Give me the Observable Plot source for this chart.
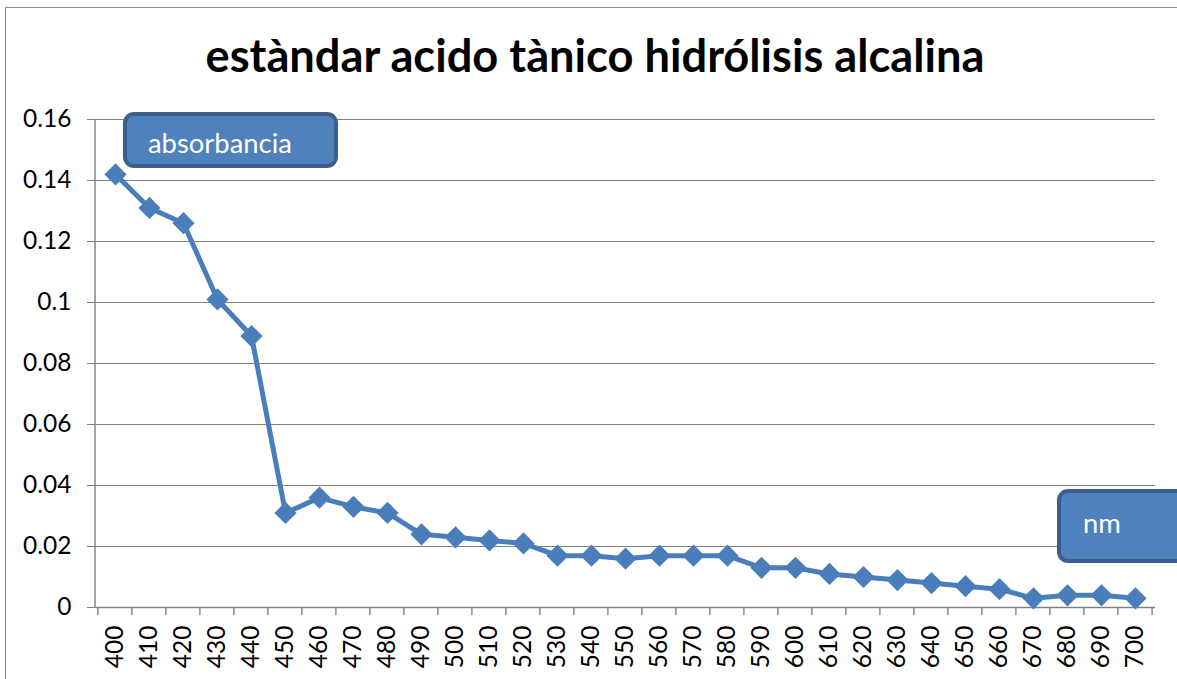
<!DOCTYPE html>
<html><head><meta charset="utf-8">
<script src="https://cdn.jsdelivr.net/npm/d3@7"></script>
<script src="https://cdn.jsdelivr.net/npm/@observablehq/plot@0.6"></script>
<style>
body{margin:0;background:#fff;}
#wrap{position:relative;width:1177px;height:679px;overflow:hidden;font-family:Lato,sans-serif;background:#fff;}
#border{position:absolute;left:5px;top:7px;width:1220px;height:720px;border:1px solid #8a8a8a;box-sizing:border-box;}
#title{height:100px;position:relative;}
#title span{position:absolute;white-space:nowrap;font-weight:bold;line-height:1;color:#000;transform:translateX(-50%);}
#chart{position:relative;}
#chart svg [aria-label$="tick label"]{fill:#000;font-size:24.5px;}
.note{position:absolute;background:#4F81BD;border:4px solid #3A5F8C;border-radius:11px;box-sizing:border-box;}
.note span{position:absolute;color:#fff;line-height:1;white-space:nowrap;font-family:Lato,sans-serif;}
</style></head>
<body>
<div id="wrap">
  <div id="border"></div>
  <div id="title"><span id="titleText"></span></div>
  <div id="chart"></div>
  <div class="note" id="noteY" style="left:123px;top:112px;width:215px;height:56px;"><span></span></div>
  <div class="note" id="noteX" style="left:1057px;top:489px;width:150px;height:74px;"><span></span></div>
</div>
<script>
const titleText = "estàndar acido tànico hidrólisis alcalina";
const yLabel = "absorbancia";
const xLabel = "nm";
const wavelengths = [400,410,420,430,440,450,460,470,480,490,500,510,520,530,540,550,560,570,580,590,600,610,620,630,640,650,660,670,680,690,700];
const absorbance = [0.142,0.131,0.126,0.101,0.089,0.031,0.036,0.033,0.031,0.024,0.023,0.022,0.021,0.017,0.017,0.016,0.017,0.017,0.017,0.013,0.013,0.011,0.010,0.009,0.008,0.007,0.006,0.003,0.004,0.004,0.003];
const yTicks = [0,0.02,0.04,0.06,0.08,0.10,0.12,0.14,0.16];

const data = wavelengths.map((w, i) => ({w, a: absorbance[i]}));

function fitSize(text, weight, target) {
  const c = document.createElement("canvas").getContext("2d");
  c.font = `${weight} 100px Lato`;
  return 100 * target / c.measureText(text).width;
}
const ASC = 0.887; // baseline offset for Lato with line-height 1

// title
const tfs = fitSize(titleText, "bold", 780);
const tEl = document.getElementById("titleText");
tEl.textContent = titleText;
tEl.style.fontSize = tfs + "px";
tEl.style.left = "595px";
tEl.style.top = (72 - ASC * tfs) + "px";

// annotation boxes
const nfs = fitSize(yLabel, "normal", 144);
const ny = document.querySelector("#noteY span");
ny.textContent = yLabel; ny.style.fontSize = nfs + "px";
ny.style.left = (148 - 123 - 4) + "px"; ny.style.top = (153 - 112 - 4 - ASC * nfs) + "px";
const nx = document.querySelector("#noteX span");
nx.textContent = xLabel; nx.style.fontSize = nfs + "px";
nx.style.left = (1083 - 1057 - 4) + "px"; nx.style.top = (533 - 489 - 4 - ASC * nfs) + "px";

const gray = "#808080";
const blue = "#4A7EBB";

const chart = Plot.plot({
  width: 1177, height: 579,
  marginTop: 19, marginBottom: 72, marginLeft: 95, marginRight: 22,
  style: {fontFamily: "Lato, sans-serif", fontSize: "24.5px", color: gray, background: "transparent", overflow: "visible"},
  x: {type: "point", domain: wavelengths, padding: 0.5, align: 0.5, label: null, tickSize: 0, tickPadding: 18, tickRotate: -90},
  y: {domain: [0, 0.16], ticks: yTicks, tickFormat: d => String(+d.toFixed(2)), label: null, tickSize: 8, tickPadding: 16},
  marks: [
    Plot.gridY(yTicks, {stroke: gray, strokeOpacity: 1, strokeWidth: 1.2}),
    Plot.ruleY([0], {stroke: gray, strokeWidth: 1.4}),
    (index, scales, values, dimensions) => {
      const {width, height, marginLeft, marginRight, marginTop, marginBottom} = dimensions;
      const step = (width - marginLeft - marginRight) / wavelengths.length;
      const g = d3.create("svg:g").attr("stroke", gray).attr("stroke-width", 1.4);
      const y0 = height - marginBottom;
      g.append("line").attr("x1", marginLeft).attr("x2", marginLeft).attr("y1", marginTop).attr("y2", y0);
      const xs = wavelengths.map(w => scales.x(w) - step / 2);
      xs.push(scales.x(wavelengths[wavelengths.length - 1]) + step / 2);
      for (const x of xs) g.append("line").attr("x1", x).attr("x2", x).attr("y1", y0).attr("y2", y0 + 8);
      return g.node();
    },
    Plot.line(data, {x: "w", y: "a", stroke: blue, strokeWidth: 5, strokeLinejoin: "round"}),
    Plot.dot(data, {x: "w", y: "a", symbol: "diamond2", r: 10, fill: blue, stroke: "none"})
  ]
});
document.getElementById("chart").appendChild(chart);
</script>
</body></html>
